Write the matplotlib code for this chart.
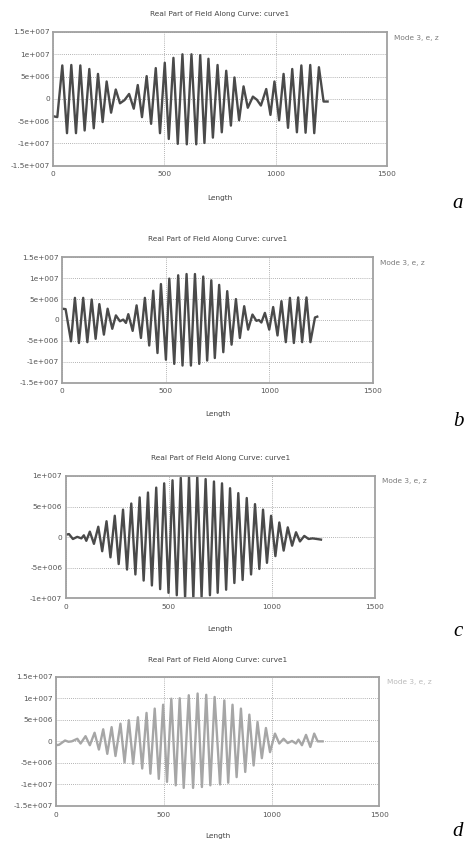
"""Four stacked field plots: Real Part of Field Along Curve (panels a-d)."""
import numpy as np
import matplotlib
matplotlib.use("Agg")
import matplotlib.pyplot as plt

W, H = 465, 843

# extrema: length, field value (x 1e6)
A_X = [0, 18, 40.5, 61.6, 81, 102, 121.6, 141, 162, 182, 201, 222, 240, 260, 281, 300,
       320, 341, 362, 380, 399, 420, 440, 461, 480, 501.5, 519.5, 540.5, 560, 581, 600.6,
       621.6, 643, 661, 680, 698, 718, 739, 758, 778, 799, 815, 836, 856, 875, 898, 916,
       934, 958, 977, 995, 1016, 1036, 1056, 1075, 1096, 1116, 1135, 1156, 1174, 1195,
       1216, 1234]
A_Y = [-3.9, -4.1, 7.5, -7.7, 7.6, -7.7, 7.5, -7.1, 6.7, -6.6, 5.6, -5.2, 3.9, -3.1, 2.1, -1.0,
       -0.3, 1.1, -2.2, 3.1, -4.1, 5.1, -5.6, 6.9, -7.7, 8.1, -9.0, 9.2, -10.1, 10.0, -10.2,
       10.0, -10.2, 9.8, -9.9, 9.0, -8.7, 7.6, -7.5, 6.3, -6.0, 4.8, -4.8, 2.8, -2.0, 0.5, -0.2,
       -1.5, 2.2, -3.6, 3.9, -4.8, 5.6, -6.5, 6.7, -7.5, 7.5, -7.6, 7.6, -7.7, 7.1,
       -0.6, -0.6]

B_X = [0, 16, 42, 61, 80.5, 101, 121, 142, 161, 179, 201, 219, 241.5, 259, 278.5, 294.6,
       307.5, 319, 340, 359, 380, 399, 420, 439.5, 460, 476.6, 500.7, 517, 541, 560, 581,
       600.5, 621.5, 641, 661.7, 681, 700, 720, 737, 758, 778, 797, 818, 839, 858, 879, 898,
       919, 938, 950, 962, 979, 1000, 1019, 1040, 1059, 1080, 1100, 1119, 1140, 1159, 1180,
       1199, 1221, 1232]
B_Y = [2.7, 2.6, -5.1, 5.3, -5.5, 5.3, -5.3, 4.9, -4.5, 3.8, -3.5, 2.7, -2.1, 1.1, -0.3, 0.1,
       -0.7, 1.4, -2.6, 3.5, -4.3, 5.3, -6.1, 7.0, -7.9, 8.6, -9.5, 9.9, -10.5, 10.7, -10.9,
       11.0, -10.9, 11.0, -10.5, 10.4, -9.7, 9.5, -9.1, 8.4, -7.7, 6.9, -5.9, 5.0, -4.3, 3.3, -2.3,
       1.3, -0.2, 0.0, -0.6, 1.7, -2.3, 3.1, -3.7, 4.5, -5.3, 5.3, -5.5, 5.4, -5.3, 5.4,
       -5.3, 0.6, 0.8]

C_X = [0, 16, 35, 56, 76, 88, 100, 117, 137, 158, 177, 198, 217, 238, 257, 278, 297.5, 318,
       338, 358.6, 378, 399, 418, 439, 458, 477.6, 498.5, 518, 538.7, 558, 579, 598, 619, 638,
       659, 678.6, 699.5, 719, 737, 758, 778, 797, 818, 837, 858, 878, 899, 918, 939, 957, 976,
       996, 1017, 1036, 1057, 1077, 1098, 1117, 1136, 1157, 1178, 1197, 1218, 1238]
C_Y = [0.4, 0.5, -0.3, 0.05, -0.2, 0.3, -0.6, 0.9, -1.1, 1.7, -2.3, 2.6, -3.3, 3.5, -4.4, 4.5,
       -5.3, 5.5, -6.1, 6.5, -7.1, 7.3, -7.9, 8.1, -8.5, 8.8, -9.1, 9.3, -9.5, 9.7, -9.9, 9.9,
       -10.0, 9.9, -9.8, 9.5, -9.5, 9.1, -9.1, 8.8, -8.6, 8.0, -7.5, 7.2, -7.0, 6.4, -6.1, 5.4,
       -5.2, 4.5, -4.2, 3.5, -3.1, 2.4, -2.2, 1.6, -1.4, 0.8, -0.7, 0.2, -0.3, -0.2, -0.3, -0.4]

D_X = [0, 14, 42, 58, 73, 99, 114, 137, 157, 179, 199, 219, 238, 258, 276, 299, 318, 338, 358,
       380, 400, 420, 438, 458, 477, 497, 515, 535, 555.5, 574, 592.5, 616, 636, 657, 677, 697,
       716, 736, 761, 781, 799, 819, 838, 858, 878, 897, 917, 935, 955, 974, 993, 1016, 1036,
       1056, 1075, 1095, 1113, 1125, 1141, 1160, 1180, 1198, 1214, 1237]
D_Y = [-0.9, -0.8, 0.2, -0.1, 0.0, 0.6, -0.5, 1.2, -0.9, 2.0, -1.9, 2.8, -2.9, 3.3, -3.4, 4.1,
       -4.9, 4.9, -5.2, 5.6, -6.3, 6.6, -7.5, 7.6, -8.7, 8.5, -9.4, 9.9, -10.2, 10.0, -10.8,
       10.7, -10.8, 11.1, -10.6, 10.8, -10.2, 10.3, -10.0, 9.5, -9.6, 8.5, -8.3, 7.6, -7.1, 6.2,
       -5.6, 4.5, -3.9, 3.1, -2.5, 1.8, -0.5, 0.6, -0.4, 0.1, -0.5, 0.4, -0.9, 1.5, -1.3, 1.8,
       0.0, 0.0]

X_TICKS = [0, 500, 1000, 1500]
Y_TICKS_WIDE = [-1.5e7, -1e7, -5e6, 0, 5e6, 1e7, 1.5e7]
Y_LABELS_WIDE = ["-1.5e+007", "-1e+007", "-5e+006", "0", "5e+006", "1e+007", "1.5e+007"]
Y_TICKS_NARROW = [-1e7, -5e6, 0, 5e6, 1e7]
Y_LABELS_NARROW = ["-1e+007", "-5e+006", "0", "5e+006", "1e+007"]

TITLE = "Real Part of Field Along Curve: curve1"
LEGEND = "Mode 3, e, z"

# panel geometry in pixels: axes x0, x1, y0, y1, title y, legend x, legend y, xlabel y, letter y
PANELS = [
    (A_X, A_Y, "a", (53.3, 386.7, 32.0, 165.7, 14.0, 394, 37.7, 198.0, 203.0), True, "#4a4a4a", "#7a7a7a"),
    (B_X, B_Y, "b", (62.3, 372.7, 257.3, 382.7, 239.3, 380, 263.3, 414.0, 421.0), True, "#4a4a4a", "#7a7a7a"),
    (C_X, C_Y, "c", (65.7, 375.0, 476.0, 598.3, 458.3, 381.7, 480.7, 629.0, 631.0), False, "#4a4a4a", "#7a7a7a"),
    (D_X, D_Y, "d", (56.0, 379.3, 676.7, 806.0, 660.0, 387, 682.3, 836.0, 831.0), True, "#a6a6a6", "#bbbbbb"),
]

FS = 5.3
fig = plt.figure(figsize=(W / 100, H / 100), dpi=100)
fig.patch.set_facecolor("white")

for xs, ys, letter, g, wide, lc, legc in PANELS:
    x0, x1, y0, y1, ty, lx, ly, xly, lety = g
    ax = fig.add_axes([x0 / W, 1 - y1 / H, (x1 - x0) / W, (y1 - y0) / H])
    ax.plot(xs, np.array(ys) * 1e6, color=lc, linewidth=1.7, solid_joinstyle="round")
    ax.set_xlim(0, 1500)
    if wide:
        ax.set_ylim(-1.5e7, 1.5e7)
        ax.set_yticks(Y_TICKS_WIDE)
        ax.set_yticklabels(Y_LABELS_WIDE)
    else:
        ax.set_ylim(-1e7, 1e7)
        ax.set_yticks(Y_TICKS_NARROW)
        ax.set_yticklabels(Y_LABELS_NARROW)
    ax.set_xticks(X_TICKS)
    ax.set_xticklabels([str(t) for t in X_TICKS])
    ax.tick_params(length=0, labelsize=FS, colors="#555555")
    ax.tick_params(axis="y", pad=2.5)
    ax.tick_params(axis="x", pad=4)
    ax.grid(True, color="#9a9a9a", linestyle=(0, (1, 1.5)), linewidth=0.6)
    ax.set_axisbelow(True)
    for s in ax.spines.values():
        s.set_color("#a0a0a0")
        s.set_linewidth(1.3)

    cx = (x0 + x1) / 2 / W
    fig.text(cx, 1 - ty / H, TITLE, ha="center", va="center", fontsize=FS, color="#444444")
    fig.text(cx, 1 - xly / H, "Length", ha="center", va="center", fontsize=FS, color="#444444")
    fig.text(lx / W, 1 - ly / H, LEGEND, ha="left", va="center", fontsize=FS, color=legc)
    fig.text(458 / W, 1 - lety / H, letter, ha="center", va="center", fontsize=15,
             family="Liberation Serif", style="italic", color="black")

fig.savefig("out.png", dpi=100)
